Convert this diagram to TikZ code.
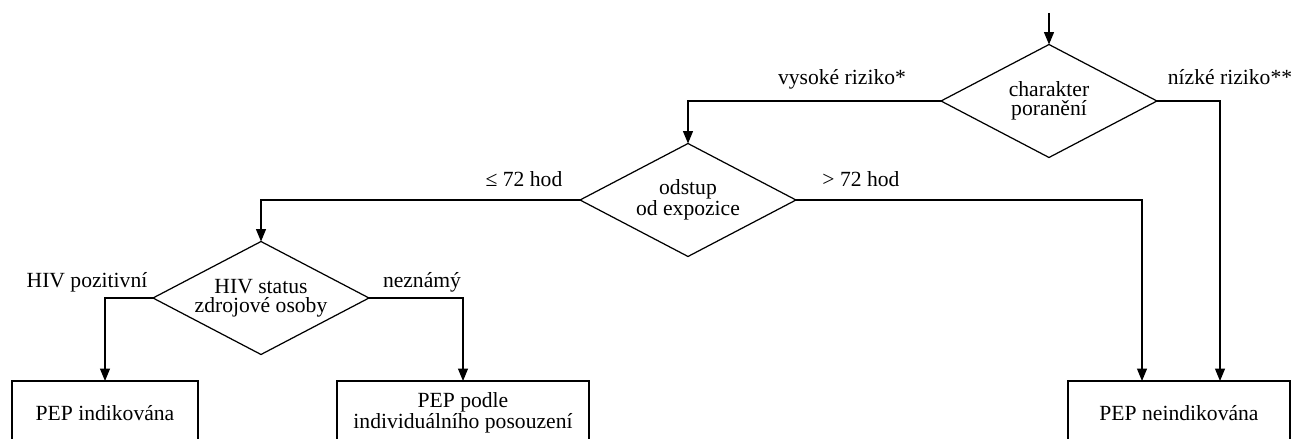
\documentclass[tikz,border=0pt]{standalone}
\usepackage{fontspec}
\setmainfont{Liberation Serif}
\usetikzlibrary{shapes.geometric,arrows.meta}

\begin{document}
\begin{tikzpicture}[
            x=0.02cm, y=-0.02cm, line width=0.7pt,
            every node/.style={font=\fontsize{12.3}{10.8}\selectfont},
            decision/.style={draw, diamond, aspect=2, inner sep=0pt, outer sep=0pt,
                    minimum width=4.32cm, minimum height=2.26cm, align=center},
            outcome/.style={draw, rectangle, outer sep=0pt,
                    minimum height=1.28cm, align=center},
            flow/.style={-{Triangle[length=7pt,width=5.6pt]}},
            lab/.style={anchor=base}
        ]
        \useasboundingbox (0,0) rectangle (1299,439);

        \node[decision] (injury) at (1049,101) {charakter\\poranění};
        \node[decision] (delay) at (688,200) {odstup\\od expozice};
        \node[decision] (source) at (261,298) {HIV status\\zdrojové osoby};

        \node[outcome, minimum width=3.72cm] (pepyes) at (105,413) {PEP indikována};
        \node[outcome, minimum width=5.04cm] (pepind) at (463,413) {PEP podle\\individuálního posouzení};
        \node[outcome, minimum width=4.44cm] (pepno) at (1179,413) {PEP neindikována};

        \coordinate (start) at (1049,13);
        \coordinate (lowrisk) at (1220,101);
        \coordinate (late) at (1142,200);

        \draw[flow] (start) -- (injury.north);
        \draw[flow] (injury.west) -| (delay.north);
        \draw[flow] (injury.east) -- (lowrisk) -- (lowrisk |- pepno.north);
        \draw[flow] (delay.west) -| (source.north);
        \draw[flow] (delay.east) -- (late) -- (late |- pepno.north);
        \draw[flow] (source.west) -| (pepyes.north);
        \draw[flow] (source.east) -| (pepind.north);

        \node[lab] (lhigh) at (842,85) {vysoké riziko*};
        \node[lab] (llow) at (1230,85) {nízké riziko**};
        \node[lab] (learly) at (524,187) {≤ 72 hod};
        \node[lab] (llate) at (861,187) {> 72 hod};
        \node[lab] (lpos) at (87,287) {HIV pozitivní};
        \node[lab] (lunk) at (422,287) {neznámý};
    \end{tikzpicture}
\end{document}
